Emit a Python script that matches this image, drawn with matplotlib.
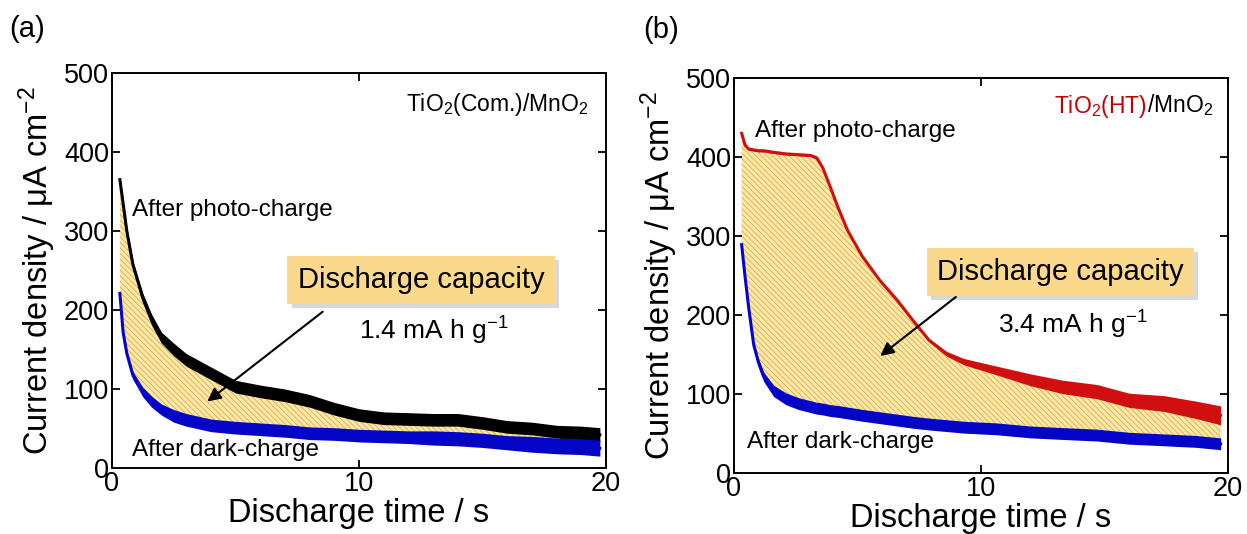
import numpy as np
import matplotlib
matplotlib.use("Agg")
import matplotlib.pyplot as plt
from matplotlib import patheffects
from matplotlib.offsetbox import TextArea, HPacker, AnchoredOffsetbox

plt.rcParams['font.family'] = ['Liberation Sans', 'DejaVu Sans']
plt.rcParams['mathtext.default'] = 'regular'
plt.rcParams['hatch.linewidth'] = 0.6

# ---------------- data ----------------
# Panel (a): TiO2(Com.)/MnO2
t_a = [0.32, 0.45, 0.6, 0.85, 1.25, 1.6, 2.0, 2.5, 3.0, 4.0, 5.0, 6.0, 7.0,
       8.0, 9.0, 10.0, 11.0, 12.0, 13.0, 14.0, 15.0, 16.0, 17.0, 18.0, 19.0, 19.75]
photo_a = [365, 335, 300, 257, 215, 188, 165, 150, 137, 120, 103, 97, 92,
           85, 75, 67, 63, 62, 61, 61, 57, 52, 50, 46, 44, 42]
photo_a_noise = [2, 3, 4, 5, 6, 7, 7, 8, 8, 8, 8, 8, 8,
                 8, 8, 8, 8, 8, 8, 8, 8, 8, 8, 8, 9, 9]
dark_a = [221, 172, 145, 117, 96, 84, 74, 66, 61, 54, 51, 49, 47,
          44, 43, 41, 40, 39, 38, 37, 35, 32, 30, 28, 27, 25]
dark_a_noise = [2, 3, 4, 5, 6, 7, 7, 8, 8, 8, 8, 8, 8,
                8, 8, 8, 8, 8, 9, 9, 9, 9, 10, 10, 10, 10]

# Panel (b): TiO2(HT)/MnO2
t_b = [0.31, 0.45, 0.6, 0.8, 1.0, 1.2, 1.6, 2.1, 2.6, 3.1, 3.35, 3.6, 3.9, 4.2,
       4.6, 5.2, 5.9, 6.6, 7.3, 7.9, 8.6, 9.3, 10.6, 12.0, 13.3, 14.7, 16.0,
       17.4, 18.7, 19.7]
photo_b = [430, 415, 410, 409, 408, 408, 406, 404, 403, 402, 399, 386, 362, 337,
           307, 274, 244, 219, 191, 168, 151, 141, 130, 118, 109, 103, 92,
           88, 80, 73]
photo_b_noise = [1.5, 1.5, 1.5, 1.5, 1.5, 1.5, 1.5, 1.5, 1.5, 1.5, 1.5, 1.5, 1.5, 1.5,
                 1.5, 1.5, 1.5, 1.5, 1.5, 2, 3, 4, 5.5, 7.5, 8.5, 9, 9,
                 10, 11, 12]
dark_b = [289, 248, 208, 162, 139, 122, 104, 94, 88, 84, 82, 81, 79, 78,
          76, 73, 70, 67, 64, 62, 60, 58, 56, 52, 50, 48, 44,
          42, 40, 37]
dark_b_noise = [1.5, 2, 3, 4, 5, 6, 7, 7.5, 7.5, 7.5, 7.5, 7.5, 7.5, 7.5,
                7.5, 7.5, 7.5, 7.5, 7.5, 7.5, 7.5, 7.5, 7.5, 7.5, 7.5, 7.5, 7.5,
                7.5, 7.5, 7.5]

x_ticks = [0, 10, 20]
y_ticks = [0, 100, 200, 300, 400, 500]

# ---------------- styling ----------------
FILL = '#FBE8AA'
HATCH = '#D9AE45'
BOX = '#FBD98C'
BLACK = '#000000'
BLUE = '#0505C8'
RED = '#D01010'
RED_TXT = '#C00000'

fig = plt.figure(figsize=(12.47, 5.34), dpi=100)
ax_a = fig.add_axes([0.0898, 0.1236, 0.3962, 0.7397])
ax_b = fig.add_axes([0.5886, 0.1142, 0.3962, 0.7397])


def draw(ax, t, photo, photo_n, dark, dark_n, photo_color):
    t = np.asarray(t, float)
    photo = np.asarray(photo, float)
    dark = np.asarray(dark, float)
    photo_n = np.asarray(photo_n, float)
    dark_n = np.asarray(dark_n, float)
    ax.fill_between(t, dark, photo, facecolor=FILL, edgecolor=HATCH,
                    hatch='\\' * 6, linewidth=0, zorder=1)
    ax.fill_between(t, photo - photo_n, photo + photo_n, color=photo_color,
                    linewidth=0, zorder=2)
    ax.plot(t, photo, color=photo_color, lw=2.2, zorder=2)
    ax.fill_between(t, dark - dark_n, dark + dark_n, color=BLUE,
                    linewidth=0, zorder=2)
    ax.plot(t, dark, color=BLUE, lw=2.2, zorder=2)

    ax.set_xlim(0, 20)
    ax.set_ylim(0, 500)
    ax.set_xticks(x_ticks)
    ax.set_yticks(y_ticks)
    ax.tick_params(direction='in', length=6, width=1.3, top=True, right=True,
                   labelsize=19.5, pad=2)
    for s in ax.spines.values():
        s.set_linewidth(1.4)
    ax.set_xlabel('Discharge time / s', fontsize=23.5, labelpad=1)
    ax.set_ylabel('Current density / μA cm$^{-2}$', fontsize=23.5, labelpad=4)


draw(ax_a, t_a, photo_a, photo_a_noise, dark_a, dark_a_noise, BLACK)
draw(ax_b, t_b, photo_b, photo_b_noise, dark_b, dark_b_noise, RED)


def box_text(ax, x, y, s):
    txt = ax.text(x, y, s, transform=ax.transAxes, ha='center', va='center',
                  fontsize=21, zorder=5,
                  bbox=dict(boxstyle='square,pad=0.35', facecolor=BOX,
                            edgecolor='none'))
    txt.get_bbox_patch().set_path_effects([
        patheffects.SimplePatchShadow(offset=(3, -3), shadow_rgbFace='0.5',
                                      alpha=0.3),
        patheffects.Normal()])
    return txt


# panel (a) annotations
ax_a.text(0.964, 0.921, 'TiO$_2$(Com.)/MnO$_2$', transform=ax_a.transAxes,
          ha='right', va='center', fontsize=16.5)
ax_a.text(0.0405, 0.653, 'After photo-charge', transform=ax_a.transAxes,
          ha='left', va='center', fontsize=17.5)
ax_a.text(0.0405, 0.0456, 'After dark-charge', transform=ax_a.transAxes,
          ha='left', va='center', fontsize=17.5)
box_text(ax_a, 0.6255, 0.476, 'Discharge capacity')
ax_a.text(0.652, 0.324, '1.4 mA h g$^{-1}$', transform=ax_a.transAxes,
          ha='center', va='baseline', fontsize=19)
ax_a.annotate('', xy=(3.77, 82), xytext=(8.62, 200),
              arrowprops=dict(arrowstyle='-|>', color='k', lw=1.5,
                              mutation_scale=20), zorder=6)

# panel (b) annotations
lbl = HPacker(children=[
    TextArea('TiO$_2$(HT)', textprops=dict(color=RED_TXT, fontsize=16.5)),
    TextArea('/MnO$_2$', textprops=dict(color='k', fontsize=16.5))],
    pad=0, sep=0, align='baseline')
anch = AnchoredOffsetbox(loc='center right', child=lbl, frameon=False,
                         bbox_to_anchor=(0.970, 0.929),
                         bbox_transform=ax_b.transAxes, borderpad=0, pad=0)
ax_b.add_artist(anch)
ax_b.text(0.0425, 0.866, 'After photo-charge', transform=ax_b.transAxes,
          ha='left', va='center', fontsize=17.5)
ax_b.text(0.026, 0.078, 'After dark-charge', transform=ax_b.transAxes,
          ha='left', va='center', fontsize=17.5)
box_text(ax_b, 0.661, 0.509, 'Discharge capacity')
ax_b.text(0.686, 0.354, '3.4 mA h g$^{-1}$', transform=ax_b.transAxes,
          ha='center', va='baseline', fontsize=19)
ax_b.annotate('', xy=(5.83, 146), xytext=(9.07, 225),
              arrowprops=dict(arrowstyle='-|>', color='k', lw=1.5,
                              mutation_scale=20), zorder=6)

fig.text(27 / 1247, 1 - 29 / 534, '(a)', ha='center', va='center', fontsize=21)
fig.text(661 / 1247, 1 - 30 / 534, '(b)', ha='center', va='center', fontsize=21)

fig.savefig('out.png', dpi=100)
